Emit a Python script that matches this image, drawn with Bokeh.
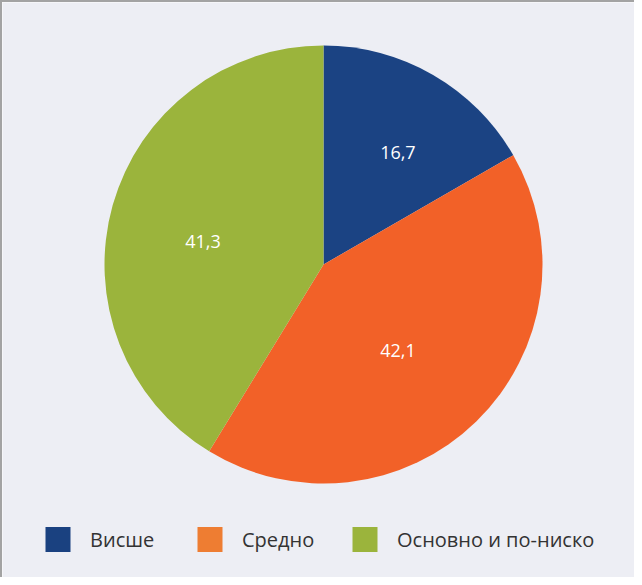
import numpy as np
from bokeh.plotting import figure
from bokeh.models import Range1d, ColumnDataSource
from bokeh.core.properties import value
from bokeh.embed import file_html
from bokeh.resources import INLINE

# Data
categories = ["Висше", "Средно", "Основно и по-ниско"]
shares = [16.7, 42.1, 41.3]
labels = ["16,7", "42,1", "41,3"]
pie_colors = ["#1b4383", "#f26128", "#9bb43c"]
legend_colors = ["#1a4180", "#ee7d32", "#9bb43c"]

# Layout for labels (fraction of radius, angle shift in degrees)
label_rfrac = [0.615, 0.52, 0.56]
label_dang = [-3.5, -3.4, 5.1]

W, H = 634, 577
p = figure(width=W, height=H, output_backend="svg", toolbar_location=None,
           x_range=Range1d(0, W), y_range=Range1d(0, H), min_border=0)
p.axis.visible = False
p.grid.visible = False
p.outline_line_color = None
p.background_fill_color = "#edeef4"
p.border_fill_color = "#edeef4"
p.styles = {"border-left": "2px solid #a3a3a3", "border-top": "2px solid #a3a3a3",
            "box-sizing": "border-box"}

cx, cy, R = 321, 315, 219
vals = np.array(shares)
fr = vals / vals.sum()
ends = np.cumsum(fr)
starts = ends - fr
start_ang = np.pi / 2 - starts * 2 * np.pi
end_ang = np.pi / 2 - ends * 2 * np.pi
mid = (start_ang + end_ang) / 2 + np.radians(label_dang)
lr = np.array(label_rfrac) * R
src = ColumnDataSource(dict(start=start_ang, end=end_ang, color=pie_colors, label=labels,
                            lx=cx + lr * np.cos(mid), ly=cy + lr * np.sin(mid)))
p.wedge(x=cx, y=cy, radius=R, start_angle="start", end_angle="end", direction="clock",
        fill_color="color", line_color=None, source=src)
p.text(x="lx", y="ly", text="label", source=src, text_color="white",
       text_font=value("Open Sans"), text_font_size="18px",
       text_align="center", text_baseline="middle")

# Legend (manual layout)
leg_x = [55.5, 207.5, 362.5]
leg_y = 577 - (545 - 8)
lsrc = ColumnDataSource(dict(x=leg_x, tx=[x + 32 for x in leg_x], y=[leg_y] * 3,
                             color=legend_colors, name=categories))
p.rect(x="x", y="y", width=25, height=25, fill_color="color", line_color=None, source=lsrc)
p.text(x="tx", y="y", text="name", source=lsrc, text_color="#333333",
       text_font=value("Open Sans"), text_font_size="20px",
       text_align="left", text_baseline="middle")

open("out.html", "w").write(file_html(p, INLINE))
